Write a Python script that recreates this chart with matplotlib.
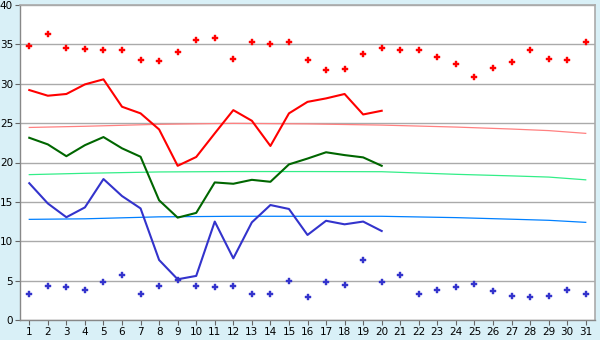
import matplotlib
matplotlib.use("Agg")
import matplotlib.pyplot as plt
import numpy as np

days = list(range(1, 32))
line_days = list(range(1, 21))

max_points = [34.75, 36.3, 34.5, 34.4, 34.25, 34.25, 33.0, 32.85, 34.0, 35.5,
              35.75, 33.1, 35.25, 35.0, 35.25, 32.97, 31.7, 31.83, 33.73, 34.5,
              34.25, 34.25, 33.35, 32.46, 30.8, 31.95, 32.7, 34.25, 33.1, 32.97, 35.25]
min_points = [3.26, 4.28, 4.15, 3.77, 4.79, 5.68, 3.26, 4.28, 5.1, 4.28,
              4.15, 4.28, 3.26, 3.26, 4.92, 2.88, 4.79, 4.41, 7.6, 4.79,
              5.68, 3.26, 3.77, 4.15, 4.54, 3.64, 3.0, 2.88, 3.0, 3.77, 3.26]

max_line = [29.2, 28.48, 28.7, 29.92, 30.56, 27.08, 26.24, 24.2, 19.58, 20.7,
            23.7, 26.65, 25.3, 22.1, 26.24, 27.7, 28.14, 28.7, 26.1, 26.57]
mean_line = [23.14, 22.3, 20.8, 22.2, 23.23, 21.8, 20.73, 15.2, 13.0, 13.6,
             17.47, 17.3, 17.8, 17.55, 19.76, 20.5, 21.3, 20.94, 20.65, 19.58]
min_line = [17.37, 14.8, 13.05, 14.3, 17.9, 15.74, 14.17, 7.62, 5.17, 5.6,
            12.5, 7.83, 12.4, 14.6, 14.1, 10.8, 12.6, 12.15, 12.5, 11.3]

trend_days = [1, 4, 8, 12, 16, 20, 24, 27, 29, 31]
max_trend = [24.45, 24.6, 24.85, 24.97, 24.9, 24.75, 24.5, 24.25, 24.05, 23.7]
mean_trend = [18.46, 18.63, 18.8, 18.85, 18.85, 18.83, 18.5, 18.3, 18.15, 17.8]
min_trend = [12.78, 12.85, 13.1, 13.17, 13.17, 13.17, 13.0, 12.8, 12.66, 12.4]

yticks = [0, 5, 10, 15, 20, 25, 30, 35, 40]

bg = "#d9f0f7"
fig = plt.figure(figsize=(6, 3.4), dpi=100, facecolor=bg)
ax = fig.add_axes([20/600, 20/340, 575/600, 315/340])
ax.set_facecolor("white")

ax.plot(trend_days, max_trend, color="#ff8080", lw=0.9, zorder=2)
ax.plot(trend_days, mean_trend, color="#33ee88", lw=0.9, zorder=2)
ax.plot(trend_days, min_trend, color="#0080ff", lw=0.9, zorder=2)

ax.plot(line_days, max_line, color="#ff0000", lw=1.5, zorder=3)
ax.plot(line_days, mean_line, color="#006600", lw=1.5, zorder=3)
ax.plot(line_days, min_line, color="#3333cc", lw=1.5, zorder=3)

ax.plot(days, max_points, ls="none", marker="P", ms=3.8, color="#ff0000", mec="#ff0000", mew=0.3, zorder=4)
ax.plot(days, min_points, ls="none", marker="P", ms=3.8, color="#3333cc", mec="#3333cc", mew=0.3, zorder=4)

ax.set_xlim(0.5, 31.5)
ax.set_ylim(0, 40)
ax.set_yticks(yticks)
ax.set_xticks(days)
ax.yaxis.grid(True, color="#aaaaaa", lw=1.0)
ax.set_axisbelow(True)
for s in ["top", "right"]:
    ax.spines[s].set_color("#aaaaaa")
    ax.spines[s].set_linewidth(1.2)
for s in ["left", "bottom"]:
    ax.spines[s].set_color("#888888")
    ax.spines[s].set_linewidth(1.0)
ax.tick_params(axis="both", labelsize=7.5, colors="#000000", length=3.5, width=0.8, pad=1.5)
ax.tick_params(axis="both", color="#666666")

fig.savefig("out.png", dpi=100, facecolor=bg)
